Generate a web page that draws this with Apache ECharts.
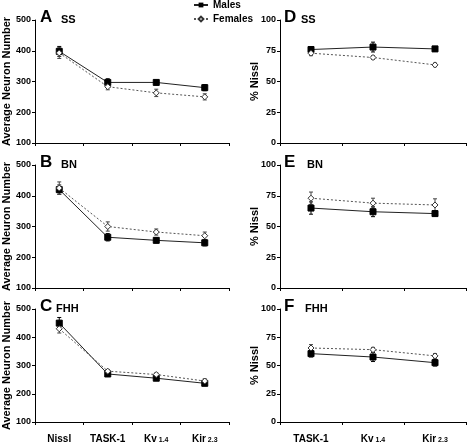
<!DOCTYPE html>
<html><head><meta charset="utf-8">
<script src="https://cdn.jsdelivr.net/npm/echarts@6/dist/echarts.min.js"></script>
<style>html,body{margin:0;padding:0;background:#fff}#c{width:468px;height:444px}</style>
</head><body><div id="c"></div>
<script>
var leftCats = ['Nissl', 'TASK-1', 'Kv|1.4', 'Kir|2.3'];
var rightCats = ['TASK-1', 'Kv|1.4', 'Kir|2.3'];
var leftTicks = [100, 500, 100];
var rightTicks = [0, 100, 25];

var ssMale = [398, 297, 297, 280];      var ssMaleErr = [16, 12, 7, 10];
var ssFemale = [393, 283, 263, 250];    var ssFemaleErr = [18, 10, 12, 10];
var bnMale = [420, 265, 255, 247];      var bnMaleErr = [15, 12, 8, 10];
var bnFemale = [425, 300, 282, 270];    var bnFemaleErr = [20, 15, 10, 12];
var fhhMale = [450, 270, 255, 237];     var fhhMaleErr = [20, 6, 6, 8];
var fhhFemale = [430, 280, 268, 245];   var fhhFemaleErr = [15, 6, 6, 8];

var dMale = [76, 78, 76.5];    var dMaleErr = [2, 4, 2];
var dFemale = [73, 69.5, 63.5]; var dFemaleErr = [2, 1.5, 1.5];
var eMale = [65, 62, 60.5];    var eMaleErr = [5, 4, 2];
var eFemale = [73, 69, 67.5];  var eFemaleErr = [5, 4, 5];
var fMale = [60.5, 57.5, 52.5]; var fMaleErr = [3, 4, 3];
var fFemale = [65.5, 64, 58.5]; var fFemaleErr = [3, 2, 2];

var panels = [
  {letter:'A', name:'SS',  side:'L', row:0, nx:61,  male:ssMale, maleErr:ssMaleErr, female:ssFemale, femaleErr:ssFemaleErr},
  {letter:'B', name:'BN',  side:'L', row:1, nx:61,  male:bnMale, maleErr:bnMaleErr, female:bnFemale, femaleErr:bnFemaleErr},
  {letter:'C', name:'FHH', side:'L', row:2, nx:56,  male:fhhMale, maleErr:fhhMaleErr, female:fhhFemale, femaleErr:fhhFemaleErr},
  {letter:'D', name:'SS',  side:'R', row:0, nx:301, male:dMale, maleErr:dMaleErr, female:dFemale, femaleErr:dFemaleErr},
  {letter:'E', name:'BN',  side:'R', row:1, nx:307, male:eMale, maleErr:eMaleErr, female:eFemale, femaleErr:eFemaleErr},
  {letter:'F', name:'FHH', side:'R', row:2, nx:305, male:fMale, maleErr:fMaleErr, female:fFemale, femaleErr:fFemaleErr}
];

var FONT = '"Liberation Sans", Arial, sans-serif';
var tops = [20, 165, 309];
var heights = [123, 123, 123];

var grids = [], xAxes = [], yAxes = [], series = [], titles = [];

function errRender(color) {
  return function (params, api) {
    var x = api.value(0), y = api.value(1), e = api.value(2);
    var hi = api.coord([x, y + e]);
    var lo = api.coord([x, y - e]);
    var w = 2;
    var st = {stroke: color, lineWidth: 1};
    return {type: 'group', children: [
      {type: 'line', shape: {x1: hi[0], y1: hi[1], x2: lo[0], y2: lo[1]}, style: st},
      {type: 'line', shape: {x1: hi[0]-w, y1: hi[1], x2: hi[0]+w, y2: hi[1]}, style: st},
      {type: 'line', shape: {x1: lo[0]-w, y1: lo[1], x2: lo[0]+w, y2: lo[1]}, style: st}
    ]};
  };
}

function fmtCat(v) {
  var p = v.split('|');
  if (p.length === 2) return '{b|' + p[0] + '}{s| ' + p[1] + '}';
  return '{b|' + v + '}';
}

panels.forEach(function (p, i) {
  var L = p.side === 'L';
  var cats = L ? leftCats : rightCats;
  var ticks = L ? leftTicks : rightTicks;
  grids.push(L ? {left: 34, width: 195, top: tops[p.row], height: heights[p.row]}
               : {left: 280, width: 186, top: tops[p.row], height: heights[p.row]});
  xAxes.push({
    type: 'category', gridIndex: i, data: cats, boundaryGap: true,
    axisLine: {lineStyle: {color: '#000', width: 1}},
    axisTick: {show: true, length: 3, lineStyle: {color: '#000'}},
    axisLabel: {show: p.row === 2, formatter: fmtCat, margin: 8, interval: 0,
      rich: {
        b: {fontFamily: FONT, fontWeight: 'bold', fontSize: 10, color: '#000', lineHeight: 14, verticalAlign: 'bottom'},
        s: {fontFamily: FONT, fontWeight: 'bold', fontSize: 7, color: '#000', lineHeight: 14, verticalAlign: 'bottom', padding: [6, 0, 0, 0]}
      }}
  });
  yAxes.push({
    type: 'value', gridIndex: i, min: ticks[0], max: ticks[1], interval: ticks[2],
    name: L ? 'Average Neuron Number' : '% Nissl',
    nameLocation: 'middle', nameRotate: 90, nameGap: L ? 23 : 20,
    nameMoveOverlap: false,
    nameTextStyle: {fontFamily: FONT, fontWeight: 'bold', fontSize: 11, color: '#000'},
    axisLine: {show: true, lineStyle: {color: '#000', width: 1}},
    axisTick: {show: true, length: 3, lineStyle: {color: '#000'}},
    splitLine: {show: false},
    axisLabel: {fontFamily: FONT, fontWeight: 'bold', fontSize: 9, color: '#000', margin: 4}
  });
  series.push({
    name: 'Males', type: 'line', xAxisIndex: i, yAxisIndex: i, data: p.male,
    symbol: 'rect', symbolSize: 6, z: 4,
    lineStyle: {color: '#222', width: 1, type: 'solid'},
    itemStyle: {color: '#000', borderColor: '#000'}
  });
  series.push({
    name: 'Females', type: 'line', xAxisIndex: i, yAxisIndex: i, data: p.female,
    symbol: 'diamond', symbolSize: 6, z: 5,
    lineStyle: {color: '#555', width: 1, type: [2, 2]},
    itemStyle: {color: '#fff', borderColor: '#333', borderWidth: 1}
  });
  series.push({
    name: 'errM' + i, type: 'custom', xAxisIndex: i, yAxisIndex: i, z: 3,
    renderItem: errRender('#000'),
    data: p.male.map(function (v, k) { return [k, v, p.maleErr[k]]; })
  });
  series.push({
    name: 'errF' + i, type: 'custom', xAxisIndex: i, yAxisIndex: i, z: 3,
    renderItem: errRender('#444'),
    data: p.female.map(function (v, k) { return [k, v, p.femaleErr[k]]; })
  });
  var lx = L ? 40 : 284;
  titles.push({text: p.letter, left: lx, top: tops[p.row] - 11, padding: 0,
    textStyle: {fontFamily: FONT, fontWeight: 'bold', fontSize: 17, color: '#000'}});
  titles.push({text: p.name, left: p.nx, top: tops[p.row] - 6, padding: 0,
    textStyle: {fontFamily: FONT, fontWeight: 'bold', fontSize: 11, color: '#000'}});
});

var chart = echarts.init(document.getElementById('c'), null, {renderer: 'canvas'});
chart.setOption({
  animation: false,
  backgroundColor: '#fff',
  title: titles,
  legend: {
    data: ['Males', 'Females'], orient: 'vertical', left: 193, top: 0, padding: 0,
    itemWidth: 14, itemHeight: 6, itemGap: 4,
    textStyle: {fontFamily: FONT, fontWeight: 'bold', fontSize: 10, color: '#000'}
  },
  grid: grids, xAxis: xAxes, yAxis: yAxes, series: series
});
</script></body></html>
